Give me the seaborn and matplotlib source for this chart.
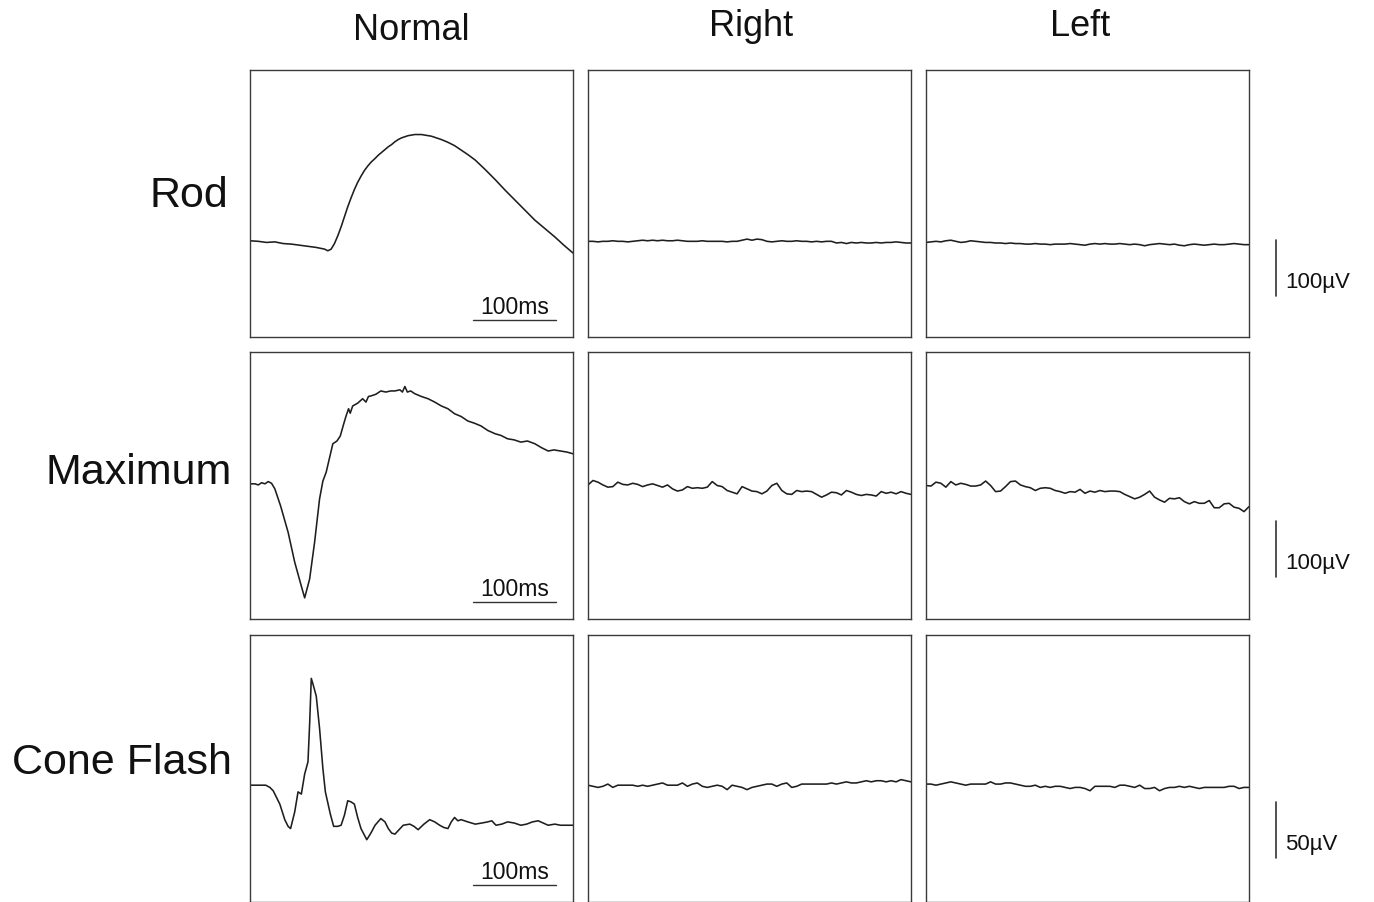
import numpy as np
import pandas as pd
import matplotlib.pyplot as plt
import matplotlib.transforms as mtransforms
import seaborn as sns

# ---- data (time in ms, amplitude in microvolts) ----
columns = ['Normal', 'Right', 'Left']
rows = ['Rod', 'Maximum', 'Cone Flash']

# Normal eye traces
rod_normal_t = [0, 10, 20, 30, 40, 50, 60, 70, 80, 90, 94, 98, 102, 106, 110, 114, 118, 122, 126,
                130, 134, 138, 142, 146, 151, 155, 159, 163, 167, 171, 175, 179, 183, 187, 191,
                195, 199, 203, 207, 211, 215, 219, 223, 227, 231, 239, 247, 255, 263, 272, 284,
                296, 308, 320, 332, 344, 356, 368, 379, 390]
rod_normal_v = [-67, -68, -70, -69, -72, -73, -75, -77, -79, -82, -85, -82, -72, -58, -42, -24, -6,
                10, 25, 38, 49, 59, 67, 74, 81, 87, 92, 97, 102, 106, 111, 115, 118, 120, 122,
                123, 124, 124, 124, 123, 122, 121, 119, 117, 115, 110, 104, 96, 88, 78, 61,
                43, 24, 6, -12, -30, -45, -60, -75, -89]

max_normal_t = [0, 6, 10, 14, 18, 22, 26, 30, 37, 46, 54, 62, 66, 72, 78, 84, 88, 92, 100, 105,
                109, 113, 116, 119, 121, 124, 130, 136, 140, 143, 146, 152, 158, 164, 170, 175,
                181, 184, 187, 190, 194, 199, 207, 215, 223, 231, 239, 247, 255, 263, 271, 279,
                287, 296, 303, 311, 319, 327, 335, 344, 352, 360, 367, 375, 383, 390]
max_normal_v = [3, 3, 1, 5, 3, 7, 4, -6, -37, -84, -138, -181, -202, -168, -102, -24, 8, 24, 75, 80,
                89, 110, 125, 138, 130, 143, 148, 156, 150, 160, 161, 164, 170, 168, 170, 170,
                172, 168, 178, 168, 170, 165, 160, 156, 150, 143, 138, 129, 124, 116, 112, 107,
                99, 93, 90, 84, 82, 78, 80, 75, 68, 62, 64, 62, 60, 57]

cone_normal_t = [0, 10, 19, 24, 28, 32, 36, 42, 46, 49, 54, 58, 62, 66, 70, 72, 74, 76, 80, 84,
                 88, 91, 97, 101, 106, 110, 114, 118, 122, 126, 130, 134, 141, 146, 151, 158,
                 163, 167, 171, 175, 180, 185, 193, 198, 203, 210, 217, 223, 229, 234, 239, 243,
                 247, 251, 255, 263, 272, 280, 287, 292, 297, 304, 311, 319, 327, 334, 341, 348,
                 354, 360, 368, 375, 383, 390]
cone_normal_v = [-15, -15, -15, -17, -20, -26, -32, -46, -52, -54, -39, -21, -23, -5, 6, 40, 81, 76,
                 65, 36, 0, -21, -41, -52, -52, -51, -42, -29, -30, -32, -44, -54, -64, -58, -51,
                 -45, -48, -54, -58, -59, -55, -51, -50, -52, -55, -50, -46, -48, -51, -53, -54,
                 -48, -44, -47, -46, -48, -50, -49, -48, -47, -51, -50, -48, -49, -51, -50, -48,
                 -47, -49, -51, -50, -51, -51, -51]

# Patient traces, sampled every 6 ms from 0 to 390 ms
t_grid = list(range(0, 391, 6))

rod_right = [-68, -68, -69, -68, -68, -67, -68, -68, -69, -68, -67,
             -66, -67, -66, -67, -66, -67, -67, -66, -67, -68,
             -68, -68, -67, -68, -68, -68, -68, -69, -68, -68,
             -66, -64, -66, -64, -65, -68, -69, -68, -67, -68,
             -68, -67, -68, -68, -69, -68, -69, -68, -68, -71,
             -70, -72, -70, -71, -70, -71, -71, -70, -71, -70,
             -70, -69, -70, -71, -71]
rod_left = [-70, -69, -68, -69, -67, -66, -68, -70, -69, -67, -68,
            -69, -70, -70, -71, -71, -72, -71, -72, -72, -73,
            -73, -72, -73, -73, -74, -73, -73, -73, -72, -73,
            -74, -75, -73, -72, -73, -72, -73, -73, -72, -73,
            -74, -73, -74, -76, -74, -73, -72, -73, -74, -73,
            -75, -76, -74, -73, -74, -75, -74, -73, -74, -74,
            -73, -72, -73, -74, -74]

max_right = [1, 9, 6, 1, -3, -2, 6, 2, 1, 4, 2,
             -2, 1, 3, 0, -3, 1, -6, -10, -8, -2,
             -5, -4, -5, -3, 7, 0, -2, -9, -12, -15,
             -2, -6, -10, -11, -15, -10, 0, 4, -9, -15,
             -16, -9, -11, -10, -11, -16, -21, -17, -12, -13,
             -17, -9, -12, -16, -18, -16, -17, -19, -11, -14,
             -12, -15, -11, -14, -16]
max_left = [0, -1, 6, 4, -3, 7, 1, 4, 2, -1, -1,
            1, 8, 0, -11, -10, -2, 7, 8, 1, -2,
            -4, -9, -5, -4, -5, -9, -11, -14, -11, -12,
            -7, -14, -10, -12, -9, -11, -10, -10, -11, -16,
            -20, -24, -21, -16, -10, -21, -26, -30, -23, -24,
            -22, -29, -33, -29, -32, -32, -27, -40, -40, -33,
            -32, -39, -41, -47, -38]

cone_right = [-15, -16, -17, -16, -14, -17, -15, -15, -15, -15, -16,
              -15, -16, -15, -14, -13, -15, -15, -15, -13, -16,
              -14, -13, -16, -17, -16, -15, -16, -19, -15, -16,
              -17, -19, -17, -16, -15, -14, -14, -16, -14, -13,
              -17, -16, -14, -14, -14, -14, -14, -14, -13, -14,
              -13, -12, -13, -13, -12, -11, -12, -11, -11, -12,
              -11, -12, -10, -11, -12]
cone_left = [-14, -14, -15, -14, -13, -12, -13, -14, -15, -14, -14,
             -14, -14, -12, -14, -14, -13, -13, -14, -15, -16,
             -16, -15, -17, -16, -17, -16, -16, -17, -18, -17,
             -17, -18, -20, -16, -16, -16, -16, -17, -15, -15,
             -16, -17, -15, -18, -18, -17, -20, -18, -17, -17,
             -16, -17, -16, -17, -18, -17, -17, -17, -17, -17,
             -16, -16, -18, -17, -17]

traces = {
    ('Rod', 'Normal'): (rod_normal_t, rod_normal_v),
    ('Rod', 'Right'): (t_grid, rod_right),
    ('Rod', 'Left'): (t_grid, rod_left),
    ('Maximum', 'Normal'): (max_normal_t, max_normal_v),
    ('Maximum', 'Right'): (t_grid, max_right),
    ('Maximum', 'Left'): (t_grid, max_left),
    ('Cone Flash', 'Normal'): (cone_normal_t, cone_normal_v),
    ('Cone Flash', 'Right'): (t_grid, cone_right),
    ('Cone Flash', 'Left'): (t_grid, cone_left),
}

# amplitude range per row and the size of its calibration bar
y_half = {'Rod': 240, 'Maximum': 240, 'Cone Flash': 120}
amp_bar = {'Rod': 100, 'Maximum': 100, 'Cone Flash': 50}
amp_bar_top = {'Rod': -66, 'Maximum': -64, 'Cone Flash': -30}
time_bar = 100
t_max = 390

# ---- plotting ----
sns.set_theme(style='white')
plt.rcParams['font.family'] = ['Liberation Sans', 'DejaVu Sans']

W, H = 1374, 903
fig = plt.figure(figsize=(W / 100, H / 100), dpi=100)

col_left = [250, 588, 926]
row_top = [71, 353, 636]
pw, ph = 323, 267
trace_color = '#1e1e1e'

for i, row in enumerate(rows):
    for j, col in enumerate(columns):
        ax = fig.add_axes([col_left[j] / W, 1 - (row_top[i] + ph) / H, pw / W, ph / H])
        t, v = traces[(row, col)]
        df = pd.DataFrame({'ms': t, 'uV': v})
        sns.lineplot(data=df, x='ms', y='uV', ax=ax, color=trace_color, linewidth=1.15,
                     sort=False, estimator=None)
        ax.set_xlim(0, t_max)
        ax.set_ylim(-y_half[row], y_half[row])
        ax.set_xticks([])
        ax.set_yticks([])
        ax.set_xlabel('')
        ax.set_ylabel('')
        for sp in ax.spines.values():
            sp.set_color('#3a3a3a')
            sp.set_linewidth(1.0)

        if col == 'Normal':
            # 100 ms time calibration bar inside the panel
            yb = -y_half[row] * 0.875
            ax.plot([t_max - 121, t_max - 121 + time_bar], [yb, yb], color='#333333', lw=1.0)
            ax.text(t_max - 121 + time_bar / 2, yb + y_half[row] * 0.02, f'{time_bar}ms',
                    ha='center', va='bottom', fontsize=16.5, color='#111111')

        if col == 'Left':
            # amplitude calibration bar to the right of the row
            tr = mtransforms.blended_transform_factory(fig.transFigure, ax.transData)
            top = amp_bar_top[row]
            ax.plot([1276 / W, 1276 / W], [top, top - amp_bar[row]], color='#333333', lw=1.2,
                    transform=tr, clip_on=False)
            ax.text(1285 / W, top - amp_bar[row] * 0.74, f'{amp_bar[row]}µV', transform=tr,
                    ha='left', va='center', fontsize=16, color='#111111')

# column titles
for x, y, name in [(411, 30, 'Normal'), (751, 27, 'Right'), (1080, 27, 'Left')]:
    fig.text(x / W, 1 - y / H, name, ha='center', va='center', fontsize=26, color='#111111')

# row labels
for x, y, name in [(228, 196, 'Rod'), (232, 473, 'Maximum'), (232, 763, 'Cone Flash')]:
    fig.text(x / W, 1 - y / H, name, ha='right', va='center', fontsize=31, color='#111111')

fig.savefig('out.png', dpi=100)
